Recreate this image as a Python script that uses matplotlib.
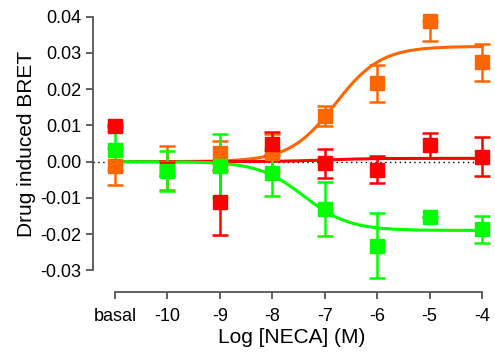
import numpy as np
import matplotlib
matplotlib.use("Agg")
import matplotlib.pyplot as plt

plt.rcParams['font.family'] = ['Liberation Sans', 'DejaVu Sans']

# Data
x_pos = [-11, -10, -9, -8, -7, -6, -5, -4]
x_labels = ['basal', '-10', '-9', '-8', '-7', '-6', '-5', '-4']

orange_y = [-0.0013, -0.0017, 0.0025, 0.0025, 0.0126, 0.0216, 0.0387, 0.0274]
orange_err_lo = [0.0051, 0.0060, 0.0032, 0.0050, 0.0028, 0.0051, 0.0055, 0.0052]
orange_err_hi = [0.0051, 0.0060, 0.0032, 0.0050, 0.0028, 0.0051, 0.0, 0.0052]

red_y = [0.0098, -0.0020, -0.0112, 0.0050, -0.0004, -0.0022, 0.0045, 0.0014]
red_err = [0.0003, 0.0021, 0.0090, 0.0033, 0.0040, 0.0037, 0.0035, 0.0054]

green_y = [0.0031, -0.0026, -0.0012, -0.0031, -0.0131, -0.0232, -0.0153, -0.0187]
green_err = [0.0053, 0.0055, 0.0087, 0.0064, 0.0074, 0.0089, 0.0, 0.0037]

# Sigmoid fit parameters (bottom, top, logEC50)
orange_fit = (0.0, 0.0318, -6.8)
red_fit = (0.0, 0.0009, -7.0)
green_fit = (0.0, -0.0190, -7.4)

colors = {'orange': '#FF6600', 'red': '#FF0000', 'green': '#00FF00'}

W, H = 495, 360
fig = plt.figure(figsize=(W / 100, H / 100), dpi=100)

left_px, right_px = 93, 490
top_px, bot_px = 16.7, 270.3
ax = fig.add_axes([left_px / W, 1 - bot_px / H, (right_px - left_px) / W, (bot_px - top_px) / H])
ppu = (482 - 115) / 7.0
ax.set_xlim(-11 - (115 - left_px) / ppu, -4 + (right_px - 482) / ppu)
ax.set_ylim(-0.03, 0.04)

xs = np.linspace(-11, -4, 300)

def sig(x, b, t, ec):
    return b + (t - b) / (1 + 10 ** (ec - x))

ax.plot([-11.42, -4], [0, 0], linestyle=(0, (1, 2.5)), color='black', lw=1.0, zorder=1)

series = [('orange', orange_y, [orange_err_lo, orange_err_hi], orange_fit),
          ('red', red_y, red_err, red_fit),
          ('green', green_y, green_err, green_fit)]
for key, y, e, fit in series:
    c = colors[key]
    ax.plot(xs, sig(xs, *fit), color=c, lw=2.2, zorder=2, clip_on=False)
    ax.errorbar(x_pos, y, yerr=e, fmt='s', color=c, ms=10, elinewidth=1.8,
                capsize=5.5, capthick=1.8, zorder=3, clip_on=False)

for s in ['top', 'right']:
    ax.spines[s].set_visible(False)
ax.spines['left'].set_bounds(-0.03, 0.04)
ax.spines['bottom'].set_bounds(-11, -4)
ax.spines['bottom'].set_position(('outward', (291.7 - bot_px) * 0.72))
for s in ['left', 'bottom']:
    ax.spines[s].set_color('#555555')
    ax.spines[s].set_linewidth(1.3)

ax.set_xticks(x_pos)
ax.set_xticklabels(x_labels)
ax.set_yticks([-0.03, -0.02, -0.01, 0.0, 0.01, 0.02, 0.03, 0.04])
ax.set_yticklabels(['-0.03', '-0.02', '-0.01', '0.00', '0.01', '0.02', '0.03', '0.04'])
ax.tick_params(axis='both', direction='out', length=5, width=1.3, color='#555555',
               labelsize=13, labelcolor='black')
ax.tick_params(axis='x', pad=7)

ax.set_xlabel('Log [NECA] (M)', fontsize=15, labelpad=2)
ax.set_ylabel('Drug induced BRET', fontsize=15, labelpad=3)

fig.savefig('out.png', dpi=100)
